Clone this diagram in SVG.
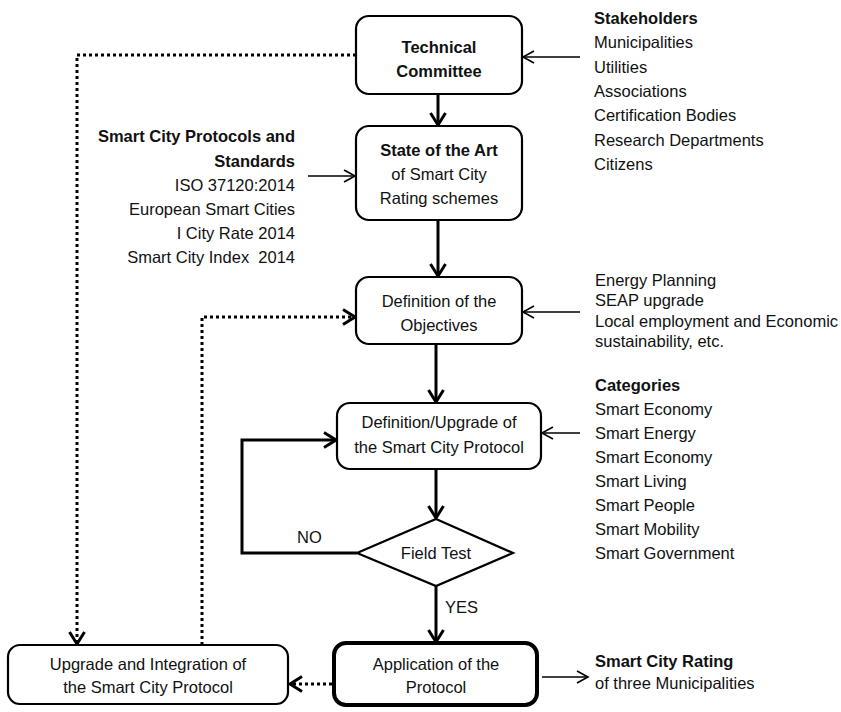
<svg xmlns="http://www.w3.org/2000/svg" width="841" height="712" viewBox="0 0 841 712">
<style>
text{font-family:"Liberation Sans",Arial,sans-serif;font-size:16.5px;fill:#111}
.b{font-weight:bold}
.m{text-anchor:middle}
.e{text-anchor:end}
.box{fill:#fff;stroke:#000;stroke-width:2.2}
.thick{stroke-width:4}
.c{fill:none;stroke:#000;stroke-width:3}
.t{fill:none;stroke:#000;stroke-width:1.6}
.d{fill:none;stroke:#000;stroke-width:3;stroke-dasharray:3 3}
</style>
<defs>
<marker id="ah" markerUnits="userSpaceOnUse" markerWidth="20" markerHeight="20" refX="15" refY="9" orient="auto" overflow="visible">
<path d="M3,1.5 L15,9 L3,16.5" fill="none" stroke="#000" stroke-width="3"/>
</marker>
<marker id="at" markerUnits="userSpaceOnUse" markerWidth="16" markerHeight="16" refX="13" refY="8" orient="auto" overflow="visible">
<path d="M2,2 L13,8 L2,14" fill="none" stroke="#000" stroke-width="1.6"/>
</marker>
</defs>
<g id="connectors">
<line class="c" x1="438" y1="94" x2="438" y2="125" marker-end="url(#ah)"/>
<line class="c" x1="438" y1="220" x2="438" y2="276" marker-end="url(#ah)"/>
<line class="c" x1="436" y1="344" x2="436" y2="402" marker-end="url(#ah)"/>
<line class="c" x1="436" y1="469" x2="436" y2="518" marker-end="url(#ah)"/>
<line class="c" x1="436" y1="586" x2="436" y2="642" marker-end="url(#ah)"/>
<polyline class="c" points="357,553 242,553 242,440 336,440" marker-end="url(#ah)"/>
<line class="t" x1="580" y1="57" x2="523" y2="57" marker-end="url(#at)"/>
<line class="t" x1="308" y1="176" x2="355" y2="176" marker-end="url(#at)"/>
<line class="t" x1="580" y1="312" x2="523" y2="312" marker-end="url(#at)"/>
<line class="t" x1="580" y1="433" x2="542" y2="433" marker-end="url(#at)"/>
<line class="t" x1="542" y1="677" x2="588" y2="677" marker-end="url(#at)"/>
<polyline class="d" points="356,55 77,55 77,644" marker-end="url(#ah)"/>
<polyline class="d" points="202,645 202,317 355,317" marker-end="url(#ah)"/>
<line class="d" x1="332" y1="684" x2="290" y2="684" marker-end="url(#ah)"/>
</g>
<g id="technical-committee">
<rect class="box" x="356" y="16" width="166" height="78" rx="13"/>
<text class="b m" x="439" y="53">Technical</text>
<text class="b m" x="439" y="77">Committee</text>
</g>
<g id="state-of-the-art">
<rect class="box" x="356" y="126" width="166" height="94" rx="13"/>
<text class="b m" x="439" y="156">State of the Art</text>
<text class="m" x="439" y="180">of Smart City</text>
<text class="m" x="439" y="204">Rating schemes</text>
</g>
<g id="objectives">
<rect class="box" x="356" y="277" width="166" height="67" rx="13"/>
<text class="m" x="439" y="307">Definition of the</text>
<text class="m" x="439" y="331">Objectives</text>
</g>
<g id="protocol">
<rect class="box" x="337" y="403" width="204" height="66" rx="13"/>
<text class="m" x="439" y="428">Definition/Upgrade of</text>
<text class="m" x="439" y="453">the Smart City Protocol</text>
</g>
<g id="field-test">
<polygon class="box" points="436,519 513,553 436,586 357,553"/>
<text class="m" x="436" y="559">Field Test</text>
</g>
<g id="application">
<rect class="box thick" x="334" y="643" width="203" height="62" rx="12"/>
<text class="m" x="436" y="670">Application of the</text>
<text class="m" x="436" y="693">Protocol</text>
</g>
<g id="upgrade">
<rect class="box" x="8" y="645" width="280" height="59" rx="12"/>
<text class="m" x="148" y="670">Upgrade and Integration of</text>
<text class="m" x="148" y="693">the Smart City Protocol</text>
</g>
<g id="labels">
<text x="297" y="543">NO</text>
<text x="445" y="613">YES</text>
</g>
<g id="stakeholders">
<text class="b" x="594" y="24">Stakeholders</text>
<text x="594" y="48">Municipalities</text>
<text x="594" y="73">Utilities</text>
<text x="594" y="97">Associations</text>
<text x="594" y="121">Certification Bodies</text>
<text x="594" y="146">Research Departments</text>
<text x="594" y="170">Citizens</text>
</g>
<g id="standards">
<text class="b e" x="295" y="142">Smart City Protocols and</text>
<text class="b e" x="295" y="167">Standards</text>
<text class="e" x="295" y="191">ISO 37120:2014</text>
<text class="e" x="295" y="215">European Smart Cities</text>
<text class="e" x="295" y="239">I City Rate 2014</text>
<text class="e" x="295" y="263" style="white-space:pre">Smart City Index  2014</text>
</g>
<g id="objectives-list">
<text x="595" y="286">Energy Planning</text>
<text x="595" y="306">SEAP upgrade</text>
<text x="595" y="327">Local employment and Economic</text>
<text x="595" y="347">sustainability, etc.</text>
</g>
<g id="categories">
<text class="b" x="595" y="391">Categories</text>
<text x="595" y="415">Smart Economy</text>
<text x="595" y="439">Smart Energy</text>
<text x="595" y="463">Smart Economy</text>
<text x="595" y="487">Smart Living</text>
<text x="595" y="511">Smart People</text>
<text x="595" y="535">Smart Mobility</text>
<text x="595" y="559">Smart Government</text>
</g>
<g id="rating">
<text class="b" x="595" y="667">Smart City Rating</text>
<text x="595" y="689">of three Municipalities</text>
</g>
</svg>
